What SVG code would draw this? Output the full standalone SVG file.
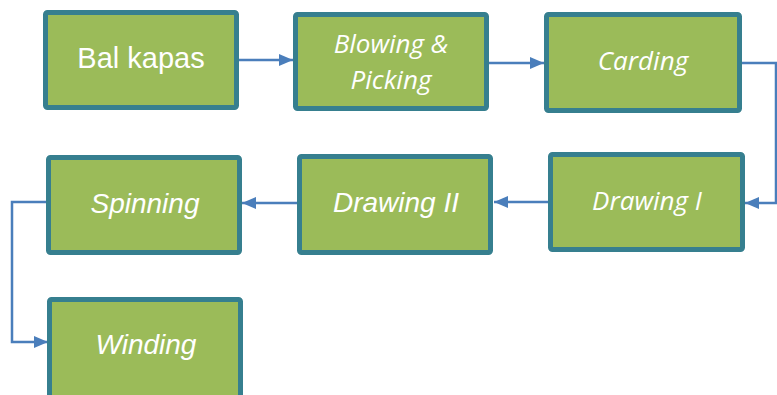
<svg xmlns="http://www.w3.org/2000/svg" width="777" height="395" viewBox="0 0 777 395">
<defs>
<style>
.box{fill:#9BBB59;stroke:#367F8F;stroke-width:5}
.t{fill:#fff;text-anchor:middle}
.a{font-family:"Liberation Sans",Arial,sans-serif;font-size:28px}
.o{font-family:"Open Sans","DejaVu Sans",sans-serif;font-size:26px;font-style:italic}
.ai{font-style:italic}
.c{fill:none;stroke:#4A7EBB;stroke-width:2.5}
</style>
<marker id="ah" viewBox="0 0 14 12" refX="14" refY="6" markerWidth="14" markerHeight="12" markerUnits="userSpaceOnUse" orient="auto">
<path d="M0,0 L14,6 L0,12 z" fill="#4A7EBB"/>
</marker>
</defs>
<g id="connectors">
<path class="c" d="M239,60 H293" marker-end="url(#ah)"/>
<path class="c" d="M489,63 H544" marker-end="url(#ah)"/>
<path class="c" d="M742,63 H776 V203 H745" marker-end="url(#ah)"/>
<path class="c" d="M548,202 H494" marker-end="url(#ah)"/>
<path class="c" d="M297,203 H242" marker-end="url(#ah)"/>
<path class="c" d="M46,202 H12 V342 H48" marker-end="url(#ah)"/>
</g>
<g id="n1"><rect class="box" x="45.5" y="12.5" width="191" height="95" rx="2"/><text class="t a" x="141" y="68" style="font-size:29px">Bal kapas</text></g>
<g id="n2"><rect class="box" x="295.5" y="14.5" width="191" height="94" rx="2"/><text class="t o" x="391" y="53">Blowing &amp;</text><text class="t o" x="391" y="89">Picking</text></g>
<g id="n3"><rect class="box" x="546.5" y="14.5" width="193" height="96" rx="2"/><text class="t o" x="643" y="70">Carding</text></g>
<g id="n4"><rect class="box" x="550.5" y="154.5" width="192" height="95" rx="2"/><text class="t o" x="647" y="210">Drawing I</text></g>
<g id="n5"><rect class="box" x="299.5" y="156.5" width="191" height="96" rx="2"/><text class="t a ai" x="396" y="212">Drawing II</text></g>
<g id="n6"><rect class="box" x="48.5" y="157.5" width="191" height="95" rx="2"/><text class="t a ai" x="145" y="213">Spinning</text></g>
<g id="n7"><rect class="box" x="49.5" y="299.5" width="191" height="100" rx="2"/><text class="t a ai" x="146" y="354">Winding</text></g>
</svg>
